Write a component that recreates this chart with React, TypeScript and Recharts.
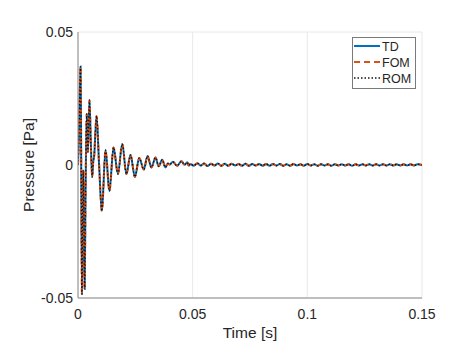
import React from 'react';
import { LineChart, Line, XAxis, YAxis, CartesianGrid, Legend } from 'recharts';

// time samples [s]
const timeS = [
  0, 0.0004, 0.0011, 0.0013, 0.0017, 0.002, 0.0023, 0.0026, 0.0029, 0.0033,
  0.0038, 0.0043, 0.005, 0.0056, 0.0062, 0.0066, 0.007, 0.0081, 0.0092, 0.0104,
  0.012, 0.0137, 0.0155, 0.0174, 0.0193, 0.0211, 0.0229, 0.0248, 0.0267, 0.0287,
  0.0303, 0.032, 0.0338, 0.0352, 0.0367, 0.0381, 0.0392, 0.04, 0.0414, 0.0432,
  0.0451, 0.0465, 0.0476, 0.0483,
  0.049, 0.0505, 0.052, 0.0535, 0.055, 0.0565, 0.058, 0.0595, 0.061, 0.0625,
  0.064, 0.0655, 0.067, 0.0685, 0.07, 0.0715, 0.073, 0.0745, 0.076, 0.0775,
  0.079, 0.0805, 0.082, 0.0835, 0.085, 0.0865, 0.088, 0.0895, 0.091, 0.0925,
  0.094, 0.0955, 0.097, 0.0985, 0.1, 0.1015, 0.103, 0.1045, 0.106, 0.1075,
  0.109, 0.1105, 0.112, 0.1135, 0.115, 0.1165, 0.118, 0.1195, 0.121, 0.1225,
  0.124, 0.1255, 0.127, 0.1285, 0.13, 0.1315, 0.133, 0.1345, 0.136, 0.1375,
  0.139, 0.1405, 0.142, 0.1435, 0.145, 0.1465, 0.148, 0.15,
];

// TD pressure [Pa]
const tdPa = [
  0, 0.01, 0.037, 0.018, -0.0485, -0.02, -0.002, -0.025, -0.0466, -0.01,
  0.0192, 0.0049, 0.0244, 0.008, -0.0045, 0.001, 0.003, 0.0184, 0.0, -0.0173,
  0.0056, -0.0098, 0.0066, -0.0034, 0.0079, -0.0034, 0.0038, -0.0045, 0.0026, -0.0017,
  0.0034, -0.0009, 0.0028, -0.0005, 0.002, -0.0009, 0.0006, 0.0002, 0.0012, -0.0003,
  0.0014, 0.0001, 0.001, -0.0002,
  0.0004, -0.0003, 0.0007, -0.0002, 0.0006, -0.0004, 0.0005, -0.0002, 0.0006, -0.0003,
  0.0005, -0.0003, 0.0005, -0.0002, 0.0004, -0.0003, 0.0005, -0.0003, 0.0004, -0.0002,
  0.0004, -0.0003, 0.0004, -0.0003, 0.0004, -0.0002, 0.0004, -0.0003, 0.0003, -0.0003,
  0.0004, -0.0002, 0.0003, -0.0003, 0.0004, -0.0002, 0.0003, -0.0003, 0.0003, -0.0002,
  0.0003, -0.0003, 0.0003, -0.0002, 0.0003, -0.0002, 0.0003, -0.0003, 0.0003, -0.0002,
  0.0003, -0.0002, 0.0003, -0.0002, 0.0003, -0.0002, 0.0003, -0.0002, 0.0003, -0.0002,
  0.0003, -0.0002, 0.0003, -0.0002, 0.0003, -0.0002, 0.0003, 0.0,
];

// FOM and ROM overlap TD within drawing precision
const fomPa = [...tdPa];
const romPa = [...tdPa];

const xTicks = [0, 0.05, 0.1, 0.15];
const yTicks = [-0.05, 0, 0.05];
const seriesNames = ['TD', 'FOM', 'ROM'];

const rows = timeS.map((t, i) => ({ t, td: tdPa[i], fom: fomPa[i], rom: romPa[i] }));

const seriesStyle = [
  { key: 'td', color: '#0072BD', width: 2, dash: undefined as string | undefined },
  { key: 'fom', color: '#D95319', width: 2, dash: '6 4' },
  { key: 'rom', color: '#111111', width: 1.3, dash: '1.5 2' },
];

const textColor = '#262626';
const frameColor = '#8a8a8a';
const fontFamily = '"Liberation Sans", Arial, Helvetica, sans-serif';

const LegendBox = () => (
  <svg width={64} height={52} style={{ display: 'block' }}>
    <rect x={0.5} y={0.5} width={63} height={51} fill="#fff" stroke="#7a7a7a" strokeWidth={1} />
    {seriesNames.map((name, i) => {
      const y = 9 + i * 16;
      const s = seriesStyle[i];
      return (
        <g key={name}>
          <line x1={2} x2={28} y1={y} y2={y} stroke={s.color} strokeWidth={s.width} strokeDasharray={s.dash} />
          <text x={30} y={y} dy="0.36em" fontSize={12.5} fill={textColor} fontFamily={fontFamily}>
            {name}
          </text>
        </g>
      );
    })}
  </svg>
);

export default function App() {
  return (
    <div style={{ position: 'absolute', left: 0, top: 0, width: 457, height: 353, background: '#fff', fontFamily }}>
      <LineChart width={457} height={353} data={rows} margin={{ top: 32, right: 35, left: 0, bottom: 0 }}>
        <CartesianGrid stroke="#e8e8e8" strokeWidth={1} />
        <XAxis
          dataKey="t"
          type="number"
          domain={[0, 0.15]}
          ticks={xTicks}
          allowDataOverflow
          height={55}
          tickLine={false}
          tickSize={0}
          tickMargin={11}
          axisLine={{ stroke: frameColor }}
          tick={{ fontSize: 14, fill: textColor }}
          tickFormatter={(v: number) => String(v)}
          label={{ value: 'Time [s]', position: 'insideBottom', offset: 15, style: { fontSize: 15.5, fill: textColor } }}
        />
        <XAxis
          xAxisId="top"
          orientation="top"
          type="number"
          domain={[0, 0.15]}
          height={0}
          tick={false}
          tickLine={false}
          axisLine={{ stroke: frameColor }}
        />
        <YAxis
          type="number"
          domain={[-0.05, 0.05]}
          ticks={yTicks}
          allowDataOverflow
          width={78}
          tickLine={false}
          tickSize={0}
          tickMargin={5}
          axisLine={{ stroke: frameColor }}
          tick={{ fontSize: 14, fill: textColor }}
          tickFormatter={(v: number) => String(v)}
          label={{ value: 'Pressure [Pa]', angle: -90, position: 'center', dx: -11, style: { fontSize: 15.5, fill: textColor } }}
        />
        <YAxis
          yAxisId="right"
          orientation="right"
          type="number"
          domain={[-0.05, 0.05]}
          width={0}
          tick={false}
          tickLine={false}
          axisLine={{ stroke: frameColor }}
        />
        {seriesStyle.map((s, i) => (
          <Line
            key={s.key}
            type="monotone"
            dataKey={s.key}
            name={seriesNames[i]}
            stroke={s.color}
            strokeWidth={s.width}
            strokeDasharray={s.dash}
            dot={false}
            activeDot={false}
            isAnimationActive={false}
          />
        ))}
        <Legend
          layout="horizontal"
          verticalAlign="middle"
          align="center"
          wrapperStyle={{ left: 352, top: 37, width: 64, height: 52 }}
          content={() => <LegendBox />}
        />
      </LineChart>
    </div>
  );
}
